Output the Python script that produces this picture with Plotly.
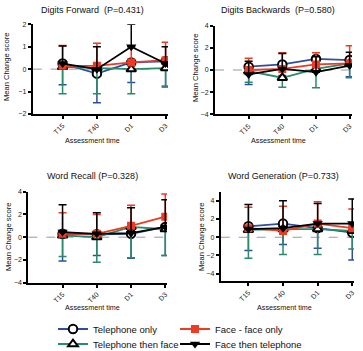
import plotly.graph_objects as go

categories = ["T15", "T40", "D1", "D3"]
series_names = ["Telephone only", "Telephone then face", "Face - face only", "Face then telephone"]

# Digits Forward
df_tel_only = [0.25, -0.2, 0.3, 0.35]
df_tel_only_err = [0.95, 1.3, 0.9, 1.15]
df_tel_face = [0.1, 0.05, 0.0, 0.05]
df_tel_face_err = [1.2, 1.15, 1.1, 0.8]
df_face_face = [0.15, 0.15, 0.3, 0.4]
df_face_face_err = [0.9, 1.0, 0.7, 0.8]
df_face_tel = [0.25, 0.0, 1.0, 0.25]
df_face_tel_err = [0.78, 1.0, 1.0, 0.75]

# Digits Backwards
db_tel_only = [0.3, 0.5, 1.0, 0.9]
db_tel_only_err = [1.6, 1.0, 1.2, 1.5]
db_tel_face = [-0.1, -0.7, 0.1, 0.6]
db_tel_face_err = [1.0, 0.85, 1.7, 1.3]
db_face_face = [0.0, 0.1, 0.5, 0.6]
db_face_face_err = [1.05, 1.45, 1.05, 1.6]
db_face_tel = [-0.4, 0.1, -0.2, 0.4]
db_face_tel_err = [1.2, 1.4, 1.4, 1.2]

# Word Recall
wr_tel_only = [0.3, 0.25, 0.3, 0.9]
wr_tel_only_err = [2.4, 1.85, 2.15, 2.5]
wr_tel_face = [0.15, 0.0, 0.9, 0.7]
wr_tel_face_err = [1.85, 2.2, 2.7, 2.3]
wr_face_face = [0.3, 0.3, 1.0, 1.8]
wr_face_face_err = [1.85, 1.7, 1.8, 2.0]
wr_face_tel = [0.45, 0.3, 0.35, 0.9]
wr_face_tel_err = [2.4, 1.85, 2.25, 2.4]

# Word Generation
wg_tel_only = [1.2, 1.5, 1.0, 0.5]
wg_tel_only_err = [2.65, 2.3, 2.2, 3.0]
wg_tel_face = [0.8, 0.9, 0.9, 0.7]
wg_tel_face_err = [3.1, 2.8, 2.8, 2.0]
wg_face_face = [1.0, 0.7, 1.5, 1.0]
wg_face_face_err = [2.3, 2.7, 2.4, 2.1]
wg_face_tel = [0.9, 1.0, 1.5, 1.5]
wg_face_tel_err = [2.7, 3.0, 2.2, 2.7]

panel_titles = ["Digits Forward  (P=0.431)", "Digits Backwards  (P=0.580)",
                "Word Recall (P=0.328)", "Word Generation (P=0.733)"]

panels = [
    (df_tel_only, df_tel_only_err, df_tel_face, df_tel_face_err, df_face_face, df_face_face_err, df_face_tel, df_face_tel_err),
    (db_tel_only, db_tel_only_err, db_tel_face, db_tel_face_err, db_face_face, db_face_face_err, db_face_tel, db_face_tel_err),
    (wr_tel_only, wr_tel_only_err, wr_tel_face, wr_tel_face_err, wr_face_face, wr_face_face_err, wr_face_tel, wr_face_tel_err),
    (wg_tel_only, wg_tel_only_err, wg_tel_face, wg_tel_face_err, wg_face_face, wg_face_face_err, wg_face_tel, wg_face_tel_err),
]

BLUE = "#2E4E9E"
GREEN = "#2A8A6C"
RED = "#EE3B24"
BLACK = "#000000"

W, H = 363, 351
FONT = "Arial, Liberation Sans, sans-serif"

fig = go.Figure()

# layout geometry (px)
x_doms = [(32.7, 168), (215, 352), (28.3, 167), (220.7, 354)]
y_doms = [(24.3, 114), (25.7, 114.3), (191.7, 282.7), (191.7, 281)]
x_ranges = [[-0.87, 3.07], [-1.0, 3.07], [-1.0, 3.05], [-0.8, 3.05]]
y_ranges = [[-2, 2], [-4, 4], [-4, 4], [-4.8, 5.0]]
y_dticks = [1, 2, 2, 2]

def styles():
    return [
        dict(name=series_names[0], line=dict(color=BLUE, width=1.8),
             marker=dict(symbol="circle", size=8.5, color="white", line=dict(color=BLACK, width=2)),
             err_color=BLUE, below=True, legend="legend"),
        dict(name=series_names[1], line=dict(color=GREEN, width=1.8),
             marker=dict(symbol="triangle-up", size=8.5, color="white", line=dict(color=BLACK, width=2)),
             err_color=GREEN, below=True, legend="legend3"),
        dict(name=series_names[2], line=dict(color=RED, width=1.8),
             marker=dict(symbol="square", size=8, color=RED, line=dict(color=RED, width=0)),
             err_color=RED, below=False, legend="legend2"),
        dict(name=series_names[3], line=dict(color=BLACK, width=1.8),
             marker=dict(symbol="triangle-down", size=9, color=BLACK, line=dict(color=BLACK, width=0)),
             err_color=BLACK, below=False, legend="legend4"),
    ]

for p, data in enumerate(panels):
    sfx = "" if p == 0 else str(p + 1)
    for s, st in enumerate(styles()):
        vals = data[2 * s]
        errs = data[2 * s + 1]
        if st["below"]:
            ey = dict(type="data", symmetric=False, array=[0] * len(errs), arrayminus=errs,
                      color=st["err_color"], thickness=1.5, width=4)
        else:
            ey = dict(type="data", symmetric=False, array=errs, arrayminus=[0] * len(errs),
                      color=st["err_color"], thickness=1.5, width=4)
        fig.add_trace(go.Scatter(
            x=categories, y=vals, mode="lines+markers", name=st["name"],
            line=st["line"], marker=st["marker"], error_y=ey,
            xaxis="x" + sfx, yaxis="y" + sfx,
            showlegend=(p == 0), legend=st["legend"], legendgroup=st["name"],
        ))
    xd = x_doms[p]
    yd = y_doms[p]
    fig.layout["xaxis" + sfx] = dict(
        domain=[xd[0] / W, xd[1] / W], anchor="y" + sfx,
        type="category", categoryorder="array", categoryarray=categories,
        range=x_ranges[p], showline=True, linecolor="black", linewidth=2,
        ticks="outside", ticklen=3, tickwidth=1.5, tickcolor="black",
        tickangle=-45, tickfont=dict(size=7, family=FONT, color="#222"),
        showgrid=False, zeroline=False,
    )
    fig.layout["yaxis" + sfx] = dict(
        domain=[1 - yd[1] / H, 1 - yd[0] / H], anchor="x" + sfx,
        range=y_ranges[p], dtick=y_dticks[p], tick0=0,
        showline=True, linecolor="black", linewidth=2,
        ticks="outside", ticklen=3, tickwidth=1.5, tickcolor="black",
        tickfont=dict(size=7, family=FONT, color="#222"),
        showgrid=False, zeroline=False,
    )
    fig.add_shape(type="line", xref="x" + sfx + " domain", yref="y" + sfx,
                  x0=0, x1=1, y0=0, y1=0,
                  line=dict(color="#999999", width=1, dash="dash"), layer="below")

# titles & axis labels
title_pos = [(92, 10), (278, 10), (92, 176), (283, 176)]
xlab_pos = [(92, 140), (278, 140), (93, 307), (284, 307)]
ylab_pos = [(6, 67), (195, 68), (8, 237), (201, 237)]
ann = []
for p in range(4):
    common = dict(xref="paper", yref="paper", showarrow=False, xanchor="center", yanchor="middle")
    ann.append(dict(text=panel_titles[p], x=title_pos[p][0] / W, y=1 - title_pos[p][1] / H,
                    font=dict(size=9, family=FONT, color="#111"), **common))
    ann.append(dict(text="Assessment time", x=xlab_pos[p][0] / W, y=1 - xlab_pos[p][1] / H,
                    font=dict(size=7.2, family=FONT, color="#111"), **common))
    ann.append(dict(text="Mean Change score", x=ylab_pos[p][0] / W, y=1 - ylab_pos[p][1] / H,
                    textangle=-90, font=dict(size=7.6, family=FONT, color="#111"), **common))

leg_common = dict(orientation="v", yanchor="middle", xanchor="left",
                  itemwidth=30, tracegroupgap=0, bgcolor="rgba(0,0,0,0)",
                  font=dict(size=9.5, family=FONT, color="#111"))
row1, row2 = 329, 344

fig.update_layout(
    width=W, height=H, margin=dict(l=0, r=0, t=0, b=0, autoexpand=False),
    paper_bgcolor="white", plot_bgcolor="white",
    annotations=ann,
    showlegend=True,
    legend=dict(x=53 / W, y=1 - row1 / H, **leg_common),
    legend2=dict(x=175 / W, y=1 - row1 / H, **leg_common),
    legend3=dict(x=53 / W, y=1 - row2 / H, **leg_common),
    legend4=dict(x=175 / W, y=1 - row2 / H, **leg_common),
)

fig.write_html("out.html")
